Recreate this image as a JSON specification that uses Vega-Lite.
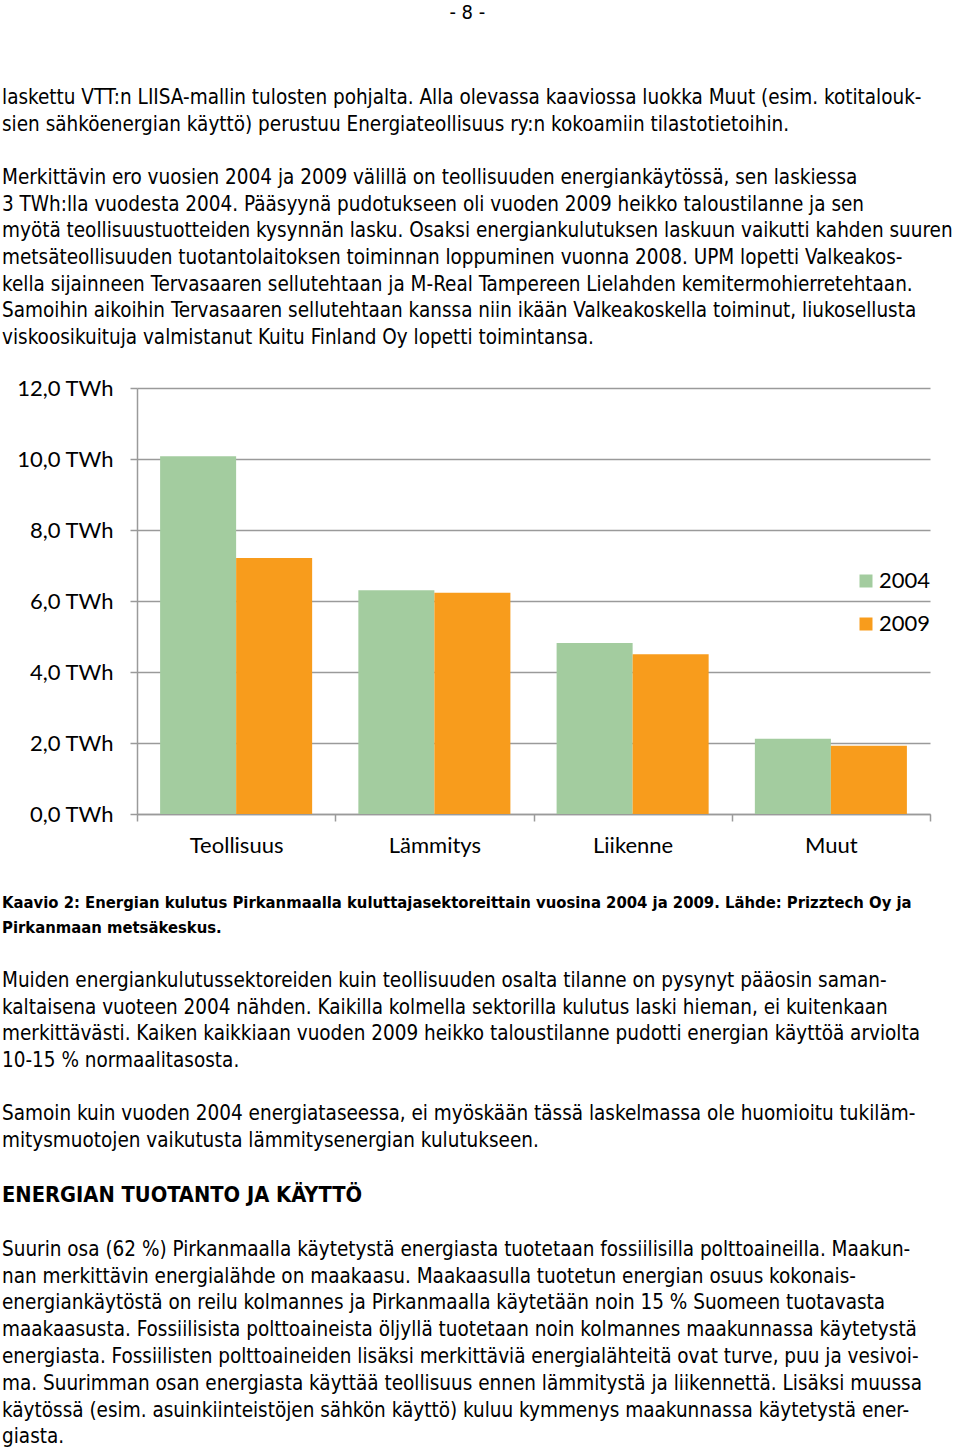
{
  "$schema": "https://vega.github.io/schema/vega-lite/v6.json",
  "padding": {"top": 3, "left": 0, "right": 0, "bottom": 0},
  "background": "white",
  "spacing": 0,
  "config": {"view": {"stroke": null}},
  "title": {"text": "- 8 -", "anchor": "middle", "frame": "bounds", "baseline": "top", "font": "DejaVu Sans Condensed", "fontSize": 20, "fontWeight": "normal", "color": "black", "offset": 74, "dx": -9, "dy": 9},
  "vconcat": [
    {
      "data": {"values": []},
      "mark": "point",
      "encoding": {},
      "width": 793,
      "height": 1,
      "title": {
        "text": [
          "laskettu VTT:n LIISA-mallin tulosten pohjalta. Alla olevassa kaaviossa luokka Muut (esim. kotitalouk-",
          "sien sähköenergian käyttö) perustuu Energiateollisuus ry:n kokoamiin tilastotietoihin."
        ],
        "subtitle": [
          "Merkittävin ero vuosien 2004 ja 2009 välillä on teollisuuden energiankäytössä, sen laskiessa",
          "3 TWh:lla vuodesta 2004. Pääsyynä pudotukseen oli vuoden 2009 heikko taloustilanne ja sen",
          "myötä teollisuustuotteiden kysynnän lasku. Osaksi energiankulutuksen laskuun vaikutti kahden suuren",
          "metsäteollisuuden tuotantolaitoksen toiminnan loppuminen vuonna 2008. UPM lopetti Valkeakos-",
          "kella sijainneen Tervasaaren sellutehtaan ja M-Real Tampereen Lielahden kemitermohierretehtaan.",
          "Samoihin aikoihin Tervasaaren sellutehtaan kanssa niin ikään Valkeakoskella toiminut, liukosellusta",
          "viskoosikuituja valmistanut Kuitu Finland Oy lopetti toimintansa."
        ],
        "anchor": "start",
        "frame": "group",
        "dx": -135,
        "font": "DejaVu Sans Condensed",
        "fontSize": 20.5,
        "fontWeight": "normal",
        "lineHeight": 26.67,
        "color": "black",
        "subtitleFont": "DejaVu Sans Condensed",
        "subtitleFontSize": 20.5,
        "subtitleFontWeight": "normal",
        "subtitleLineHeight": 26.67,
        "subtitleColor": "black",
        "subtitlePadding": 32.6,
        "offset": 27.6
      }
    },
    {
      "width": 793,
      "height": 426,
      "data": {
        "values": [
          {"sektori": "Teollisuus", "vuosi": "2004", "TWh": 10.08},
          {"sektori": "Teollisuus", "vuosi": "2009", "TWh": 7.21},
          {"sektori": "Lämmitys", "vuosi": "2004", "TWh": 6.30},
          {"sektori": "Lämmitys", "vuosi": "2009", "TWh": 6.23},
          {"sektori": "Liikenne", "vuosi": "2004", "TWh": 4.82},
          {"sektori": "Liikenne", "vuosi": "2009", "TWh": 4.50},
          {"sektori": "Muut", "vuosi": "2004", "TWh": 2.12},
          {"sektori": "Muut", "vuosi": "2009", "TWh": 1.92}
        ]
      },
      "mark": {"type": "bar"},
      "encoding": {
        "x": {
          "field": "sektori",
          "type": "nominal",
          "sort": ["Teollisuus", "Lämmitys", "Liikenne", "Muut"],
          "scale": {"paddingInner": 0, "paddingOuter": 0},
          "axis": {
            "title": null,
            "labelAngle": 0,
            "tickBand": "extent",
            "domainColor": "#9a9a9a",
            "domainWidth": 1.5,
            "tickColor": "#9a9a9a",
            "tickWidth": 1.5,
            "tickSize": 7,
            "labelFont": "Lato",
            "labelFontSize": 22,
            "labelColor": "black",
            "labelPadding": 14,
            "minExtent": 81
          }
        },
        "xOffset": {
          "field": "vuosi",
          "type": "nominal",
          "scale": {"paddingInner": 0, "paddingOuter": 0.304}
        },
        "y": {
          "field": "TWh",
          "type": "quantitative",
          "scale": {"domain": [0, 12], "nice": false},
          "axis": {
            "title": null,
            "values": [0, 2, 4, 6, 8, 10, 12],
            "labelExpr": "replace(format(datum.value, '.1f'), '.', ',') + ' TWh'",
            "grid": true,
            "gridColor": "#9a9a9a",
            "gridWidth": 1.5,
            "domainColor": "#9a9a9a",
            "domainWidth": 1.5,
            "tickColor": "#9a9a9a",
            "tickWidth": 1.5,
            "tickSize": 7,
            "labelFont": "Lato",
            "labelFontSize": 22,
            "labelColor": "black",
            "labelPadding": 17,
            "minExtent": 137
          }
        },
        "color": {
          "field": "vuosi",
          "type": "nominal",
          "scale": {"domain": ["2004", "2009"], "range": ["#A3CC9F", "#F89C1C"]},
          "legend": {
            "title": null,
            "orient": "none",
            "legendX": 718,
            "legendY": 194,
            "padding": 0,
            "symbolType": "square",
            "symbolSize": 169,
            "symbolStrokeWidth": 0,
            "labelFont": "Lato",
            "labelFontSize": 22,
            "labelColor": "black",
            "labelOffset": 2,
            "rowPadding": 21
          }
        }
      }
    },
    {
      "data": {"values": []},
      "mark": "point",
      "encoding": {},
      "width": 793,
      "height": 1,
      "title": {
        "text": [
          "Kaavio 2: Energian kulutus Pirkanmaalla kuluttajasektoreittain vuosina 2004 ja 2009. Lähde: Prizztech Oy ja",
          "Pirkanmaan metsäkeskus."
        ],
        "subtitle": [
          "Muiden energiankulutussektoreiden kuin teollisuuden osalta tilanne on pysynyt pääosin saman-",
          "kaltaisena vuoteen 2004 nähden. Kaikilla kolmella sektorilla kulutus laski hieman, ei kuitenkaan",
          "merkittävästi. Kaiken kaikkiaan vuoden 2009 heikko taloustilanne pudotti energian käyttöä arviolta",
          "10-15 % normaalitasosta."
        ],
        "anchor": "start",
        "frame": "group",
        "dx": -135,
        "font": "DejaVu Sans Condensed",
        "fontSize": 16.5,
        "fontWeight": "bold",
        "lineHeight": 25,
        "color": "black",
        "subtitleFont": "DejaVu Sans Condensed",
        "subtitleFontSize": 20.5,
        "subtitleFontWeight": "normal",
        "subtitleLineHeight": 26.75,
        "subtitleColor": "black",
        "subtitlePadding": 34.2,
        "offset": 31.4
      }
    },
    {
      "data": {"values": []},
      "mark": "point",
      "encoding": {},
      "width": 793,
      "height": 1,
      "title": {
        "text": [
          "Samoin kuin vuoden 2004 energiataseessa, ei myöskään tässä laskelmassa ole huomioitu tukiläm-",
          "mitysmuotojen vaikutusta lämmitysenergian kulutukseen."
        ],
        "subtitle": "ENERGIAN TUOTANTO JA KÄYTTÖ",
        "anchor": "start",
        "frame": "group",
        "dx": -135,
        "font": "DejaVu Sans Condensed",
        "fontSize": 20.5,
        "fontWeight": "normal",
        "lineHeight": 26.8,
        "color": "black",
        "subtitleFont": "DejaVu Sans Condensed",
        "subtitleFontSize": 21.7,
        "subtitleFontWeight": "bold",
        "subtitleColor": "black",
        "subtitlePadding": 33.8,
        "offset": 31.2
      }
    },
    {
      "data": {"values": []},
      "mark": "point",
      "encoding": {},
      "width": 793,
      "height": 1,
      "title": {
        "text": [
          "Suurin osa (62 %) Pirkanmaalla käytetystä energiasta tuotetaan fossiilisilla polttoaineilla. Maakun-",
          "nan merkittävin energialähde on maakaasu. Maakaasulla tuotetun energian osuus kokonais-",
          "energiankäytöstä on reilu kolmannes ja Pirkanmaalla käytetään noin 15 % Suomeen tuotavasta",
          "maakaasusta. Fossiilisista polttoaineista öljyllä tuotetaan noin kolmannes maakunnassa käytetystä",
          "energiasta. Fossiilisten polttoaineiden lisäksi merkittäviä energialähteitä ovat turve, puu ja vesivoi-",
          "ma. Suurimman osan energiasta käyttää teollisuus ennen lämmitystä ja liikennettä. Lisäksi muussa",
          "käytössä (esim. asuinkiinteistöjen sähkön käyttö) kuluu kymmenys maakunnassa käytetystä ener-",
          "giasta."
        ],
        "anchor": "start",
        "frame": "group",
        "dx": -135,
        "font": "DejaVu Sans Condensed",
        "fontSize": 20.5,
        "fontWeight": "normal",
        "lineHeight": 26.8,
        "color": "black",
        "offset": 0
      }
    }
  ]
}
